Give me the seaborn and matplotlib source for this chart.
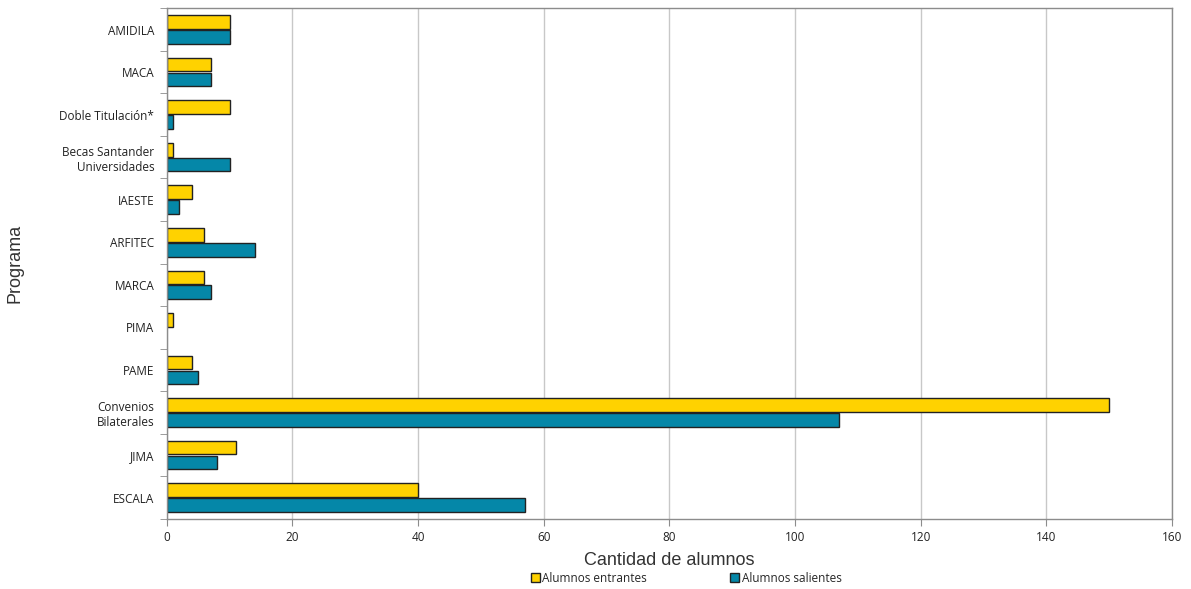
import numpy as np
import pandas as pd
import seaborn as sns
import matplotlib.pyplot as plt

programas = ['AMIDILA', 'MACA', 'Doble Titulación*', 'Becas Santander\nUniversidades',
             'IAESTE', 'ARFITEC', 'MARCA', 'PIMA', 'PAME', 'Convenios\nBilaterales',
             'JIMA', 'ESCALA']
entrantes = [10, 7, 10, 1, 4, 6, 6, 1, 4, 150, 11, 40]
salientes = [10, 7, 1, 10, 2, 14, 7, 0, 5, 107, 8, 57]
series = ['Alumnos entrantes', 'Alumnos salientes']
colores = ['#FFD200', '#0587A8']

df = pd.DataFrame({
    'Programa': programas * 2,
    'valor': entrantes + salientes,
    'serie': [series[0]] * len(programas) + [series[1]] * len(programas),
})

sns.set_style('white')
plt.rcParams['font.family'] = ['Open Sans', 'DejaVu Sans']

fig, ax = plt.subplots(figsize=(11.91, 5.89), dpi=100)
fig.subplots_adjust(left=0.140, right=0.984, top=0.986, bottom=0.119)

sns.barplot(data=df, y='Programa', x='valor', hue='serie', order=programas,
            hue_order=series, palette=colores, saturation=1, orient='h',
            width=0.7, gap=0.08, edgecolor='#222222', linewidth=1.0, ax=ax,
            legend=True)

# no outline for empty bars
for p in ax.patches:
    if p.get_width() == 0:
        p.set_linewidth(0)

ax.set_xlim(0, 160)
ax.set_ylim(len(programas) - 0.5, -0.5)
ax.set_xticks(range(0, 161, 20))
ax.grid(axis='x', color='#c8c8c8', linewidth=1.0)
ax.set_axisbelow(True)
for s in ax.spines.values():
    s.set_color('#8c8c8c')
    s.set_linewidth(1.0)

# category boundary ticks, Excel style
ax.set_yticks(np.arange(-0.5, len(programas), 1), minor=True)
ax.tick_params(axis='y', which='major', length=0, labelsize=8.5, pad=9,
               labelcolor='#222222')
ax.tick_params(axis='y', which='minor', length=5, color='#8c8c8c', left=True)
ax.tick_params(axis='x', length=5, color='#8c8c8c', labelsize=8.5, bottom=True,
               labelcolor='#222222')
for lab in ax.get_yticklabels():
    lab.set_horizontalalignment('right')
    lab.set_multialignment('right')

ax.set_xlabel('Cantidad de alumnos', fontsize=13, color='#333333', labelpad=6,
              family=['Liberation Sans', 'DejaVu Sans'])
ax.set_ylabel('Programa', fontsize=13, color='#333333', labelpad=26,
              family=['Liberation Sans', 'DejaVu Sans'])

handles, labels = ax.get_legend_handles_labels()
ax.legend_.remove()
leg = fig.legend(handles, labels, loc='center', bbox_to_anchor=(0.576, 0.018),
                 ncol=2, frameon=False, fontsize=8.5, handlelength=0.8,
                 handleheight=0.8, handletextpad=0.2, columnspacing=7)
for h in leg.legend_handles:
    h.set_edgecolor('#222222')
    h.set_linewidth(1.0)

plt.savefig('out.png', dpi=100)
